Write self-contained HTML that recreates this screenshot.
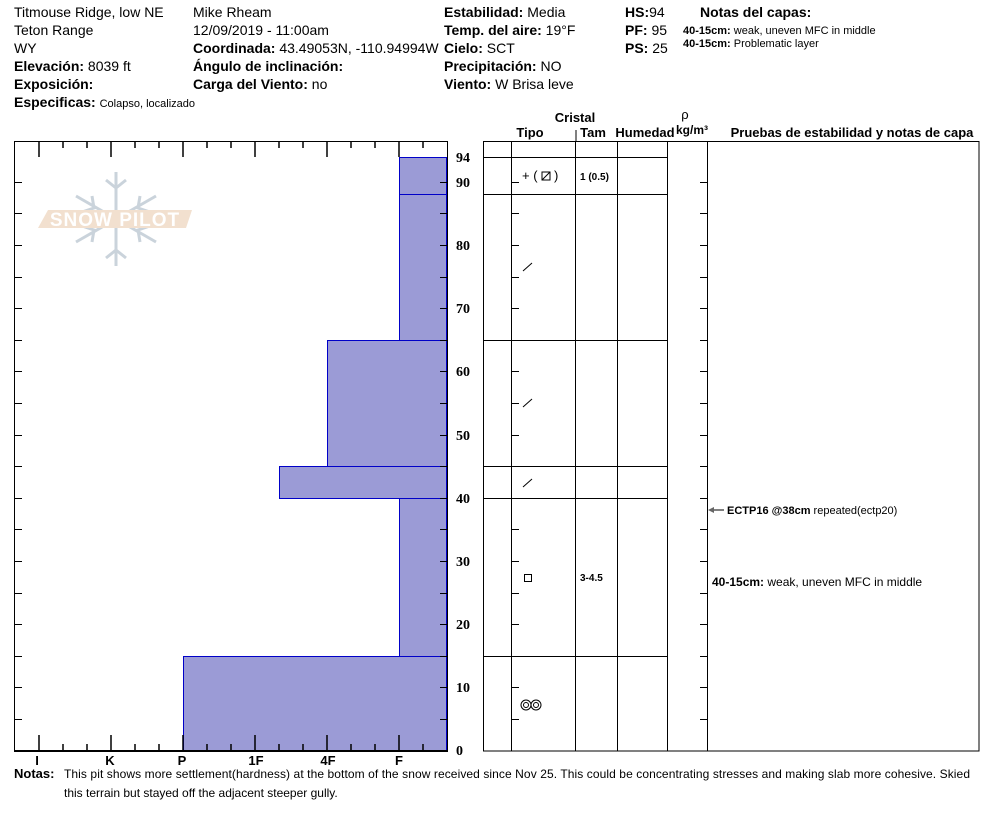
<!DOCTYPE html>
<html><head><meta charset="utf-8"><style>
html,body{margin:0;padding:0;background:#fff;}
svg{display:block;font-family:"Liberation Sans",Arial,sans-serif;}
</style></head><body>
<svg width="994" height="840" viewBox="0 0 994 840" xmlns="http://www.w3.org/2000/svg">
<g font-size="14" fill="#000">
<text x="14" y="17">Titmouse Ridge, low NE</text>
<text x="14" y="35">Teton Range</text>
<text x="14" y="53">WY</text>
<text x="14" y="71"><tspan font-weight="bold">Elevación:</tspan> 8039 ft</text>
<text x="14" y="89"><tspan font-weight="bold">Exposición:</tspan></text>
<text x="14" y="107"><tspan font-weight="bold">Especificas:</tspan> <tspan font-size="11">Colapso, localizado</tspan></text>
<text x="193" y="17">Mike Rheam</text>
<text x="193" y="35">12/09/2019 - 11:00am</text>
<text x="193" y="53"><tspan font-weight="bold">Coordinada:</tspan> 43.49053N, -110.94994W</text>
<text x="193" y="71" font-weight="bold">Ángulo de inclinación:</text>
<text x="193" y="89"><tspan font-weight="bold">Carga del Viento:</tspan> no</text>
<text x="444" y="17"><tspan font-weight="bold">Estabilidad:</tspan> Media</text>
<text x="444" y="35"><tspan font-weight="bold">Temp. del aire:</tspan> 19°F</text>
<text x="444" y="53"><tspan font-weight="bold">Cielo:</tspan> SCT</text>
<text x="444" y="71"><tspan font-weight="bold">Precipitación:</tspan> NO</text>
<text x="444" y="89"><tspan font-weight="bold">Viento:</tspan>  W Brisa leve</text>
<text x="625" y="17"><tspan font-weight="bold">HS:</tspan>94</text>
<text x="625" y="35"><tspan font-weight="bold">PF:</tspan> 95</text>
<text x="625" y="53"><tspan font-weight="bold">PS:</tspan> 25</text>
<text x="700" y="17" font-weight="bold">Notas del capas:</text>
<text x="683" y="34" font-size="11"><tspan font-weight="bold">40-15cm:</tspan>  weak, uneven MFC in middle</text>
<text x="683" y="47" font-size="11"><tspan font-weight="bold">40-15cm:</tspan> Problematic layer</text>
</g>
<!-- watermark -->
<g opacity="0.55">
<g stroke="#9fb0bf" stroke-width="3" fill="none">
<line x1="116" y1="172" x2="116" y2="266"/>
<line x1="76" y1="196" x2="156" y2="242"/>
<line x1="76" y1="242" x2="156" y2="196"/>
<path d="M106 180l10 8l10-8M106 258l10-8l10 8M82 212l12-4l-2-12M150 212l-12-4l2-12M82 226l12 4l-2 12M150 226l-12 4l2 12"/>
</g>
<polygon points="48,210 192,210 186,228 38,228" fill="#e8c8a8"/>
<text x="115" y="226" font-size="19" fill="#fff" text-anchor="middle" font-weight="bold" letter-spacing="1">SNOW PILOT</text>
</g>
<!-- bars -->
<g fill="#9b9bd6" stroke="#0000c8" stroke-width="1">
<rect x="399.5" y="157.5" width="47" height="37"/>
<rect x="399.5" y="194.5" width="47" height="146"/>
<rect x="327.5" y="340.5" width="119" height="126"/>
<rect x="279.5" y="466.5" width="167" height="32"/>
<rect x="399.5" y="498.5" width="47" height="158"/>
<rect x="183.5" y="656.5" width="263" height="94.5"/>
</g>
<!-- plot frame -->
<g stroke="#000" stroke-width="1" fill="none">
<line x1="14.5" y1="141.5" x2="447.5" y2="141.5"/>
<line x1="14.5" y1="141" x2="14.5" y2="752"/>
<line x1="447.5" y1="141" x2="447.5" y2="752"/>
<line x1="14" y1="751" x2="448" y2="751" stroke-width="2"/>
</g>
<g stroke="#000" stroke-width="1.5">
<line x1="39" y1="141" x2="39" y2="157"/><line x1="111" y1="141" x2="111" y2="157"/><line x1="183" y1="141" x2="183" y2="157"/><line x1="255" y1="141" x2="255" y2="157"/><line x1="327" y1="141" x2="327" y2="157"/><line x1="399" y1="141" x2="399" y2="157"/>
<line x1="63" y1="141" x2="63" y2="148"/><line x1="87" y1="141" x2="87" y2="148"/><line x1="135" y1="141" x2="135" y2="148"/><line x1="159" y1="141" x2="159" y2="148"/><line x1="207" y1="141" x2="207" y2="148"/><line x1="231" y1="141" x2="231" y2="148"/><line x1="279" y1="141" x2="279" y2="148"/><line x1="303" y1="141" x2="303" y2="148"/><line x1="351" y1="141" x2="351" y2="148"/><line x1="375" y1="141" x2="375" y2="148"/><line x1="423" y1="141" x2="423" y2="148"/>
<line x1="39" y1="735" x2="39" y2="751"/><line x1="111" y1="735" x2="111" y2="751"/><line x1="183" y1="735" x2="183" y2="751"/><line x1="255" y1="735" x2="255" y2="751"/><line x1="327" y1="735" x2="327" y2="751"/><line x1="399" y1="735" x2="399" y2="751"/>
<line x1="63" y1="744" x2="63" y2="751"/><line x1="87" y1="744" x2="87" y2="751"/><line x1="135" y1="744" x2="135" y2="751"/><line x1="159" y1="744" x2="159" y2="751"/><line x1="207" y1="744" x2="207" y2="751"/><line x1="231" y1="744" x2="231" y2="751"/><line x1="279" y1="744" x2="279" y2="751"/><line x1="303" y1="744" x2="303" y2="751"/><line x1="351" y1="744" x2="351" y2="751"/><line x1="375" y1="744" x2="375" y2="751"/><line x1="423" y1="744" x2="423" y2="751"/>
</g>
<g font-size="13" font-weight="bold" text-anchor="middle">
<text x="37" y="765">I</text><text x="110" y="765">K</text><text x="182" y="765">P</text><text x="256" y="765">1F</text><text x="328" y="765">4F</text><text x="399" y="765">F</text>
</g>
<!-- depth ticks -->
<g stroke="#000" stroke-width="1">
<path d="M14 719.5h8M14 687.5h8M14 656.5h8M14 624.5h8M14 593.5h8M14 561.5h8M14 529.5h8M14 498.5h8M14 466.5h8M14 435.5h8M14 403.5h8M14 371.5h8M14 340.5h8M14 308.5h8M14 277.5h8M14 245.5h8M14 213.5h8M14 182.5h8"/>
<path d="M440 719.5h8M440 687.5h8M440 656.5h8M440 624.5h8M440 593.5h8M440 561.5h8M440 529.5h8M440 498.5h8M440 466.5h8M440 435.5h8M440 403.5h8M440 371.5h8M440 340.5h8M440 308.5h8M440 277.5h8M440 245.5h8M440 213.5h8M440 182.5h8"/>
<path d="M511 719.5h8M511 687.5h8M511 656.5h8M511 624.5h8M511 593.5h8M511 561.5h8M511 529.5h8M511 498.5h8M511 466.5h8M511 435.5h8M511 403.5h8M511 371.5h8M511 340.5h8M511 308.5h8M511 277.5h8M511 245.5h8M511 213.5h8M511 182.5h8"/>
<path d="M700 719.5h8M700 687.5h8M700 656.5h8M700 624.5h8M700 593.5h8M700 561.5h8M700 529.5h8M700 498.5h8M700 466.5h8M700 435.5h8M700 403.5h8M700 371.5h8M700 340.5h8M700 308.5h8M700 277.5h8M700 245.5h8M700 213.5h8M700 182.5h8"/>
</g>
<g font-size="14" font-weight="bold" font-family="'Liberation Serif',serif">
<text x="456" y="162">94</text><text x="456" y="187">90</text><text x="456" y="250">80</text><text x="456" y="313">70</text><text x="456" y="376">60</text><text x="456" y="440">50</text><text x="456" y="503">40</text><text x="456" y="566">30</text><text x="456" y="629">20</text><text x="456" y="692">10</text><text x="456" y="755">0</text>
</g>
<!-- right table -->
<g stroke="#000" stroke-width="1" fill="none">
<rect x="483.5" y="141.5" width="495.5" height="609.5"/>
<line x1="511.5" y1="141" x2="511.5" y2="751"/>
<line x1="575.5" y1="141" x2="575.5" y2="751"/>
<line x1="617.5" y1="141" x2="617.5" y2="751"/>
<line x1="667.5" y1="141" x2="667.5" y2="751"/>
<line x1="707.5" y1="141" x2="707.5" y2="751"/>
<path d="M483 157.5h184M483 194.5h184M483 340.5h184M483 466.5h184M483 498.5h184M483 656.5h184"/>
<line x1="576" y1="130" x2="576" y2="141"/>
</g>
<g font-size="13" font-weight="bold" text-anchor="middle">
<text x="575" y="122">Cristal</text>
<text x="530" y="137">Tipo</text>
<text x="593" y="137">Tam</text>
<text x="645" y="137">Humedad</text>
<text x="685" y="119" font-weight="normal">ρ</text>
<text x="692" y="134" font-size="12">kg/m³</text>
<text x="852" y="137">Pruebas de estabilidad y notas de capa</text>
</g>
<g font-size="10" font-weight="bold"><text x="580" y="180">1 (0.5)</text><text x="580" y="581">3-4.5</text></g>
<text x="522" y="180" font-size="13">+ (</text>
<rect x="542" y="172" width="8" height="8" fill="none" stroke="#000"/><line x1="542" y1="180" x2="550" y2="172" stroke="#000"/>
<text x="554" y="180" font-size="13">)</text>
<g stroke="#000" stroke-width="1"><line x1="523" y1="271" x2="532" y2="263"/><line x1="523" y1="407" x2="532" y2="399"/><line x1="523" y1="487" x2="532" y2="479"/></g>
<rect x="524.5" y="574.5" width="7" height="7" fill="none" stroke="#000"/>
<g fill="none" stroke="#000" stroke-width="1"><circle cx="526" cy="705" r="5"/><circle cx="526" cy="705" r="2.5"/><circle cx="536" cy="705" r="5"/><circle cx="536" cy="705" r="2.5"/></g>
<line x1="710" y1="510" x2="724" y2="510" stroke="#000"/><polygon points="708,510 714,507 714,513" fill="#666"/>
<text x="727" y="514" font-size="11"><tspan font-weight="bold">ECTP16 @38cm</tspan>  repeated(ectp20)</text>
<text x="712" y="586" font-size="12"><tspan font-weight="bold">40-15cm:</tspan> weak, uneven MFC in middle</text>
<text x="14" y="778" font-size="13" font-weight="bold">Notas:</text>
<text x="64" y="778" font-size="12" textLength="906" lengthAdjust="spacing">This pit shows more settlement(hardness) at the bottom of the snow received since Nov 25. This could be concentrating stresses and making slab more cohesive. Skied</text>
<text x="64" y="797" font-size="12">this terrain but stayed off the adjacent steeper gully.</text>
</svg>
</body></html>
